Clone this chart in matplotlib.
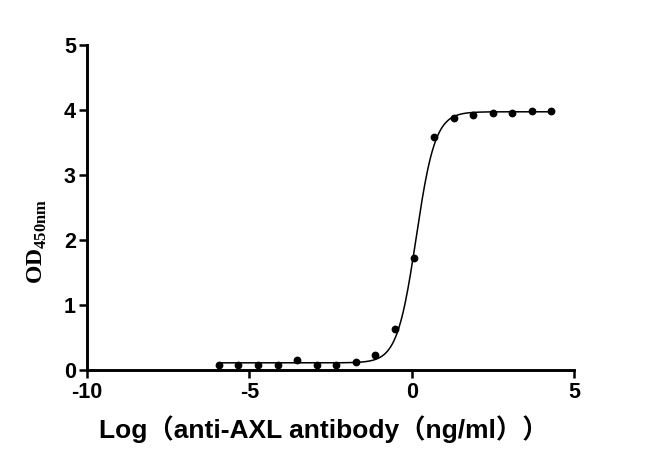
import numpy as np
import matplotlib
matplotlib.use("Agg")
import matplotlib.pyplot as plt

# log10 concentration (ng/ml) and OD450 readings
log_conc = [-5.94, -5.34, -4.73, -4.13, -3.53, -2.93, -2.32, -1.72, -1.12,
            -0.52, 0.08, 0.69, 1.29, 1.89, 2.49, 3.10, 3.70, 4.30]
od450 = [0.08, 0.07, 0.07, 0.08, 0.16, 0.07, 0.08, 0.12, 0.23,
         0.63, 1.73, 3.59, 3.88, 3.92, 3.95, 3.95, 3.99, 3.98]
xticks = [-10, -5, 0, 5]
yticks = [0, 1, 2, 3, 4, 5]


def fit_4pl(x, y):
    # crude least squares: grid over logEC50 / hill, bottom+top solved linearly
    x = np.asarray(x)
    y = np.asarray(y)
    best = None
    for c in np.linspace(-0.6, 0.8, 141):
        for h in np.linspace(0.5, 3.0, 126):
            s = 1.0 / (1.0 + 10 ** ((c - x) * h))
            A = np.column_stack([np.ones_like(s), s])
            coef, *_ = np.linalg.lstsq(A, y, rcond=None)
            err = np.sum((A @ coef - y) ** 2)
            if best is None or err < best[0]:
                best = (err, c, h, coef)
    _, c, h, coef = best
    return lambda t: coef[0] + coef[1] / (1.0 + 10 ** ((c - t) * h))


curve = fit_4pl(log_conc, od450)
xs = np.linspace(min(log_conc), max(log_conc), 400)

plt.rcParams['axes.unicode_minus'] = False
plt.rcParams['mathtext.fontset'] = 'custom'
plt.rcParams['mathtext.bf'] = 'Liberation Serif:bold'
plt.rcParams['mathtext.rm'] = 'Liberation Serif:bold'

fig = plt.figure(figsize=(6.5, 4.7), dpi=100)
ax = fig.add_axes([87/650, 1-370/470, (574-87)/650, (370-45)/470])

ax.plot(xs, curve(xs), color='black', lw=1.1)
ax.plot(log_conc, od450, 'o', color='black', ms=4.6, clip_on=False)

ax.set_xlim(-10, 5)
ax.set_ylim(0, 5)
ax.set_xticks(xticks)
ax.set_yticks(yticks)
for s in ['top', 'right']:
    ax.spines[s].set_visible(False)
for s in ['left', 'bottom']:
    ax.spines[s].set_linewidth(2.1)
ax.tick_params(direction='out', length=5.5, width=1.8, labelsize=15.5)
ax.tick_params(axis='x', pad=3)
ax.tick_params(axis='y', pad=2.5)
for lab in ax.get_xticklabels() + ax.get_yticklabels():
    lab.set_fontfamily('Liberation Sans')
    lab.set_fontweight('bold')

fig.text(324/650, 1-438/470, 'Log（anti-AXL antibody（ng/ml））',
         family=['Liberation Sans', 'Noto Sans CJK SC'],
         fontweight='bold', fontsize=19, ha='center', va='baseline')
fig.text(37/650, 1-241/470, r'$\mathbf{OD}_{\mathbf{450nm}}$',
         rotation=90, ha='center', va='center', fontsize=17)

fig.savefig('out.png', dpi=100, facecolor='white')
